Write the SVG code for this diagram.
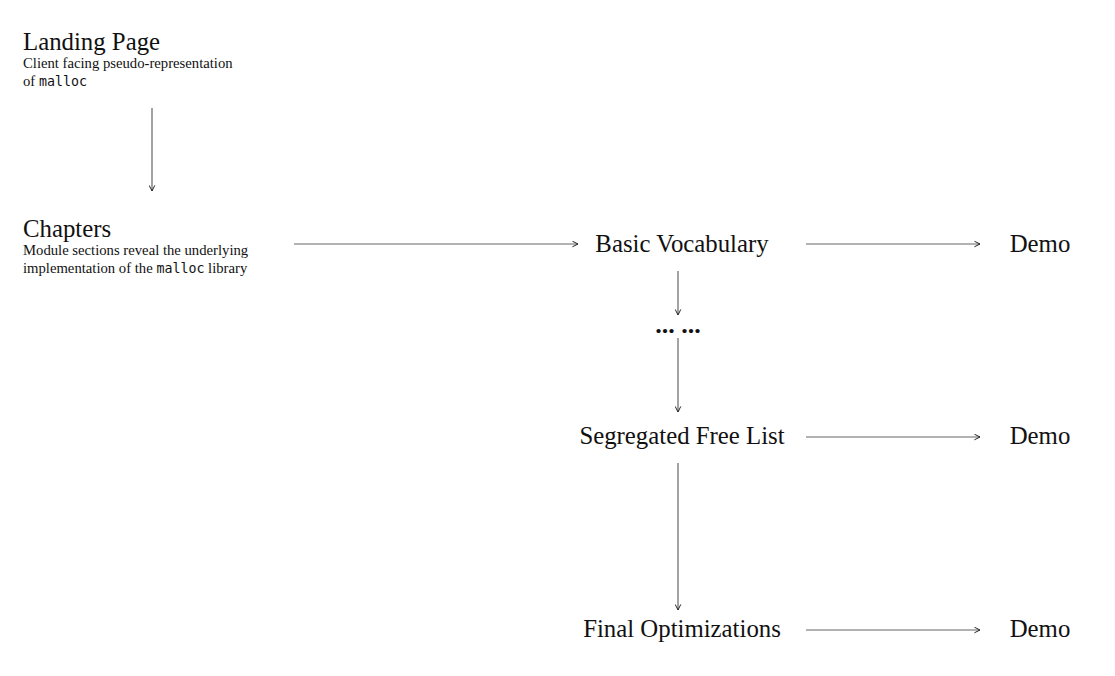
<svg xmlns="http://www.w3.org/2000/svg" width="1115" height="676" viewBox="0 0 1115 676">
<style>
.h{font-family:"Liberation Serif",serif;font-size:24.8px;fill:#111}
.s{font-family:"Liberation Serif",serif;font-size:14.7px;fill:#111}
.m{font-family:"DejaVu Sans Mono","Liberation Mono",monospace;font-size:13.3px}
.n{font-family:"Liberation Serif",serif;font-size:24.8px;fill:#111;text-anchor:middle}
.c{stroke:#666;stroke-width:1.2;fill:none;marker-end:url(#ah)}
</style>
<defs>
<marker id="ah" viewBox="0 0 10 10" refX="9" refY="5" markerWidth="7" markerHeight="7" markerUnits="userSpaceOnUse" orient="auto">
<path d="M1,1 L9,5 L1,9" fill="none" stroke="#222" stroke-width="1.4"/>
</marker>
</defs>
<rect width="1115" height="676" fill="#fff"/>
<g id="connectors">
<line class="c" x1="152" y1="108" x2="152" y2="191"/>
<line class="c" x1="294" y1="244" x2="578" y2="244"/>
<line class="c" x1="806" y1="244" x2="980" y2="244"/>
<line class="c" x1="678" y1="271" x2="678" y2="315"/>
<line class="c" x1="678" y1="338" x2="678" y2="412"/>
<line class="c" x1="806" y1="437" x2="980" y2="437"/>
<line class="c" x1="678" y1="463" x2="678" y2="610"/>
<line class="c" x1="806" y1="630" x2="980" y2="630"/>
</g>
<g id="landing">
<text class="h" x="23" y="50">Landing Page</text>
<text class="s" x="23" y="68">Client facing pseudo-representation</text>
<text class="s" x="23" y="86">of <tspan class="m">malloc</tspan></text>
</g>
<g id="chapters">
<text class="h" x="23" y="237">Chapters</text>
<text class="s" x="23" y="255">Module sections reveal the underlying</text>
<text class="s" x="23" y="273">implementation of the <tspan class="m">malloc</tspan> library</text>
</g>
<g id="basic"><text class="n" x="682" y="252">Basic Vocabulary</text></g>
<g id="demo1"><text class="n" x="1040" y="252">Demo</text></g>
<g id="ellipsis"><text class="n" x="678" y="333" style="font-weight:bold;font-size:26px">... ...</text></g>
<g id="segregated"><text class="n" x="682" y="444">Segregated Free List</text></g>
<g id="demo2"><text class="n" x="1040" y="444">Demo</text></g>
<g id="final"><text class="n" x="682" y="637">Final Optimizations</text></g>
<g id="demo3"><text class="n" x="1040" y="637">Demo</text></g>
</svg>
